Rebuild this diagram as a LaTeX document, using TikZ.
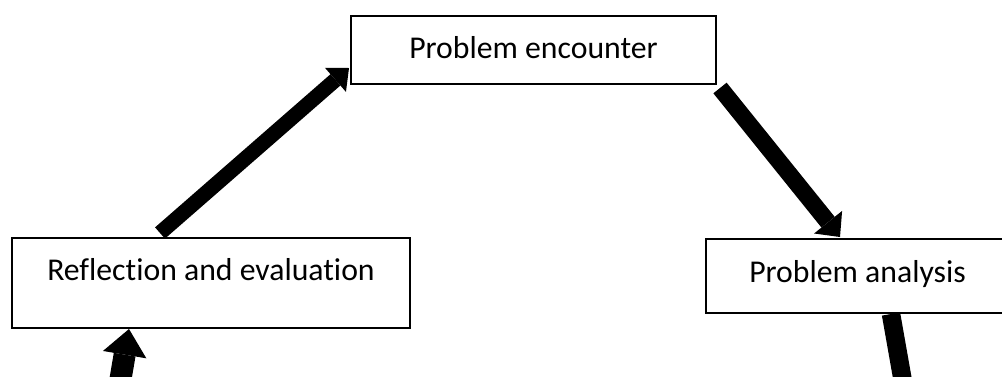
\documentclass[tikz,border=0pt]{standalone}
\usepackage{fontspec}
\setmainfont{Carlito}[Ligatures={NoCommon}]
\usetikzlibrary{arrows.meta,calc}
\newlength\pxl
\setlength\pxl{0.75pt}
\begin{document}
\begin{tikzpicture}[x=0.75pt,y=-0.75pt,
  box/.style={draw=black,line width=1.6\pxl,inner sep=0pt,outer sep=0pt,
    font=\fontsize{23.8}{28}\selectfont,fill=white},
  blockarrow/.style={draw=black,line cap=butt},
]
\useasboundingbox (0,0) rectangle (1002,376);
\clip (0,0) rectangle (1002,376);
\fill[white] (0,0) rectangle (1002,376);

\node[box,minimum width=365\pxl,minimum height=68\pxl,
      text height=22\pxl,text depth=6\pxl] (enc) at (533.5,50) {Problem encounter};
\node[box,minimum width=398\pxl,minimum height=90\pxl,
      text height=22\pxl,text depth=28\pxl] (refl) at (211,283) {Reflection and evaluation};
\node[box,minimum width=303\pxl,minimum height=74\pxl,
      text height=22\pxl,text depth=10\pxl] (ana) at (857.5,276) {Problem analysis};

\coordinate (a1s) at ($(refl.north west)+(148,-5)$);
\coordinate (a1e) at ($(enc.south west)+(-2,-16)$);
\coordinate (a2s) at ($(enc.south east)+(4,4)$);
\coordinate (a2e) at ($(ana.north west)+(134,-2)$);
\coordinate (a3s) at ($(ana.south west)+(185,1)$);
\coordinate (a3e) at (913.6,442);
\coordinate (a4s) at (115.6,408);
\coordinate (a4e) at ($(refl.south west)+(117,1)$);

\draw[blockarrow,line width=15\pxl,
  -{Triangle[length=13.5pt,width=24pt,line width=0pt]}] (a1s) -- (a1e);
\draw[blockarrow,line width=17\pxl,
  -{Triangle[length=14.25pt,width=27pt,line width=0pt]}] (a2s) -- (a2e);
\draw[blockarrow,line width=18.5\pxl,
  -{Triangle[length=19.5pt,width=31.5pt,line width=0pt]}] (a3s) -- (a3e);
\draw[blockarrow,line width=22\pxl,
  -{Triangle[length=19.5pt,width=33pt,line width=0pt]}] (a4s) -- (a4e);
\end{tikzpicture}
\end{document}
